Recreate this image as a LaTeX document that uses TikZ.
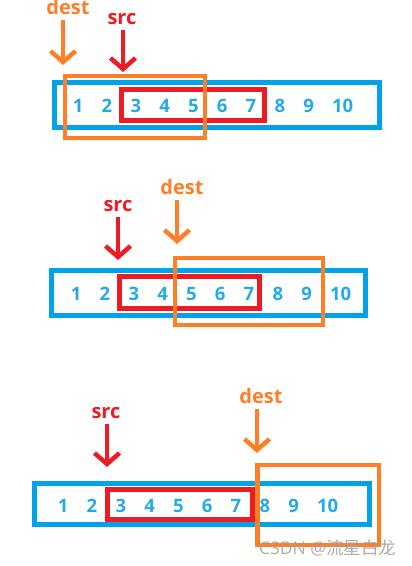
\documentclass[tikz,border=0pt]{standalone}
\usepackage{fontspec}
\setmainfont{Open Sans}
\newfontfamily\cjkfont{Noto Sans CJK SC}
\usetikzlibrary{arrows.meta}
\definecolor{boxblue}{RGB}{0,162,232}
\definecolor{numblue}{RGB}{38,170,228}
\definecolor{destorange}{RGB}{255,127,39}
\definecolor{srcred}{RGB}{237,28,36}

\begin{document}
\begin{tikzpicture}[x=1pt, y=-1pt]

\tikzstyle{num}=[text=numblue, font=\bfseries\fontsize{18.5}{18.5}\selectfont, inner sep=0pt, anchor=base west];
\tikzstyle{lbl}=[font=\bfseries\fontsize{20}{20}\selectfont, inner sep=0pt];
\tikzstyle{arr}=[line width=4.5pt, -{Straight Barb[length=11pt, width=25pt]}];
\tikzstyle{arraybox}=[draw=boxblue, line width=5pt];
\tikzstyle{srcbox}=[draw=srcred, line width=5pt];
\tikzstyle{destbox}=[draw=destorange, line width=4.3pt];

\useasboundingbox (0,0) rectangle (412,566);

% row 1: dest on the left of src
\draw[arraybox] (54.5,82.5) rectangle (379.5,127.5);
\draw[srcbox] (121.5,89.5) rectangle (264.5,120.5);
\draw[destbox] (65,76) rectangle (205,138);
\foreach \n in {1,...,10}
  \node[num] (a\n) at ({72.7+28.8*(\n-1)}, 112) {\n};

\node[lbl, text=destorange] (dest1) at (68,7) {dest};
\node[lbl, text=srcred] (src1) at (122,19) {src};
\coordinate (dtip1) at (63,65);
\coordinate (stip1) at (123,72);
\draw[arr, destorange] ([xshift=-5pt, yshift=-5pt]dest1.south) -- (dtip1);
\draw[arr, srcred] ([xshift=1pt, yshift=-5pt]src1.south) -- (stip1);

% row 2: dest inside the src range
\draw[arraybox] (51.5,270.5) rectangle (365.5,315.5);
\draw[srcbox] (119.5,276.5) rectangle (259.5,308.5);
\draw[destbox] (175,258) rectangle (323,325);
\foreach \n in {1,...,10}
  \node[num] (b\n) at ({70.7+28.8*(\n-1)}, 300) {\n};

\node[lbl, text=srcred] (src2) at (118,206.5) {src};
\node[lbl, text=destorange] (dest2) at (182,187) {dest};
\coordinate (stip2) at (118,260);
\coordinate (dtip2) at (177,244);
\draw[arr, srcred] ([yshift=-5pt]src2.south) -- (stip2);
\draw[arr, destorange] ([xshift=-5pt, yshift=-5pt]dest2.south) -- (dtip2);

% row 3: dest after the src range
\draw[arraybox] (34.5,483.5) rectangle (369.5,524.5);
\draw[srcbox] (107.5,489.5) rectangle (252.5,519.5);
\draw[destbox] (257.5,465) rectangle (379,545);
\foreach \n in {1,...,10}
  \node[num] (c\n) at ({57.7+28.8*(\n-1)}, 512) {\n};

\node[lbl, text=srcred] (src3) at (106,413) {src};
\node[lbl, text=destorange] (dest3) at (261,396) {dest};
\coordinate (stip3) at (107,467);
\coordinate (dtip3) at (257,453);
\draw[arr, srcred] ([xshift=1pt, yshift=-5pt]src3.south) -- (stip3);
\draw[arr, destorange] ([xshift=-4pt, yshift=-5pt]dest3.south) -- (dtip3);

\node[text=gray!75, opacity=0.85, font=\fontsize{17.5}{17.5}\selectfont, inner sep=0pt, anchor=west] (mark) at (259,548) {CSDN @{\cjkfont 流星白龙}};
\end{tikzpicture}
\end{document}
